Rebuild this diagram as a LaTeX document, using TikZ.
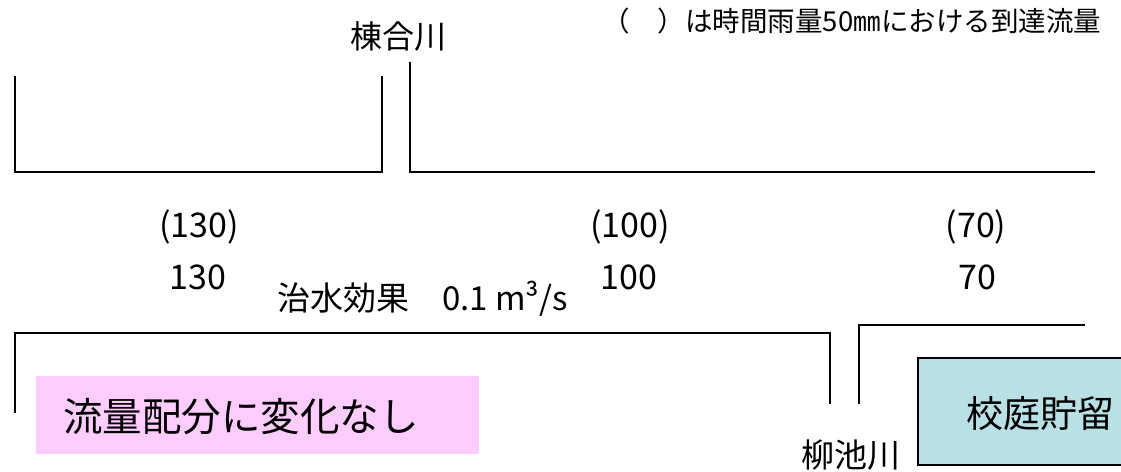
\documentclass[tikz,border=0pt]{standalone}
\usepackage{fontspec}
\setmainfont{Noto Sans CJK JP}
\definecolor{boxpink}{RGB}{255,204,255}
\definecolor{boxaqua}{RGB}{185,224,228}

\begin{document}
\begin{tikzpicture}[x=1pt, y=-1pt,
    chan/.style={line width=1.6pt, draw=black},
    lbl/.style={inner sep=0pt, font=\fontsize{32}{32}\selectfont},
    num/.style={inner sep=0pt, font=\fontsize{34}{34}\selectfont},
    note/.style={inner sep=0pt, font=\fontsize{27.5}{27.5}\selectfont},
    big/.style={inner sep=0pt, font=\fontsize{39.5}{39.5}\selectfont}
]
\clip (0,0) rectangle (1121,471);

% channels
\draw[chan] (15,76) |- (382,172) -- (382,76);
\draw[chan] (410,62) |- (1095,172);
\draw[chan] (15,413) |- (830,333) -- (830,404);
\draw[chan] (859,404) |- (1085,325);

% boxes
\node[fill=boxpink, minimum width=443, minimum height=78, anchor=north west, inner sep=0pt] (nochg) at (36,376) {};
\node[draw, line width=1.5pt, fill=boxaqua, minimum width=230, minimum height=107, anchor=north west, inner sep=0pt] (tank) at (917,357) {};
\node[big] (nochgtxt) at (241,417) {流量配分に変化なし};
\node[big, font=\fontsize{37}{37}\selectfont] (tanktxt) at (1040,414) {校庭貯留};

% labels
\node[lbl] (munea) at (398,36) {棟合川};
\node[note] (legend) at (852,21) {（　）は時間雨量50㎜における到達流量};
\node[num] (p130) at (199,227) {(130)};
\node[num] (q130) at (198,277) {130};
\node[lbl, font=\fontsize{33}{33}\selectfont, anchor=west] (effect) at (277,299) {治水効果　0.1 m³/s};
\node[num] (p100) at (630,227) {(100)};
\node[num] (q100) at (629,277) {100};
\node[num] (p70) at (976,227) {(70)};
\node[num] (q70) at (977,277) {70};
\node[lbl, font=\fontsize{33}{33}\selectfont] (yanagi) at (851,455) {柳池川};

\end{tikzpicture}
\end{document}
